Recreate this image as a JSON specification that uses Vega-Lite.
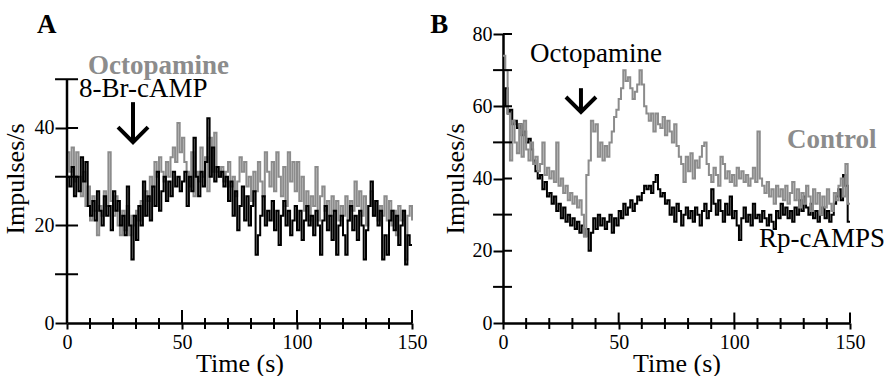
{
  "$schema": "https://vega.github.io/schema/vega-lite/v6.json",
  "padding": {"left": 2, "top": 10, "right": 0, "bottom": 0},
  "spacing": 3,
  "config": {
    "view": {"stroke": null},
    "font": "Liberation Serif",
    "text": {"font": "Liberation Serif"},
    "axis": {"labelFont": "Liberation Serif", "titleFont": "Liberation Serif", "labelFontSize": 20, "titleFontSize": 26, "titleFontWeight": "normal", "labelColor": "black", "titleColor": "black", "domainColor": "black", "tickColor": "black", "grid": false, "domainWidth": 2.5, "tickWidth": 2, "labelFlush": false}
  },
  "hconcat": [
    {
      "width": 345, "height": 289,
      "data": {"values": [
{"t":0,"camp":30,"octo":35},{"t":1,"camp":28,"octo":31},{"t":2,"camp":32,"octo":36},{"t":3,"camp":26,"octo":29},{"t":4,"camp":30,"octo":35},{"t":5,"camp":27,"octo":30},{"t":6,"camp":34,"octo":26},{"t":7,"camp":29,"octo":31},{"t":8,"camp":33,"octo":24},{"t":9,"camp":24,"octo":28},
{"t":10,"camp":22,"octo":21},{"t":11,"camp":25,"octo":26},{"t":12,"camp":21,"octo":23},{"t":13,"camp":27,"octo":18},{"t":14,"camp":23,"octo":24},{"t":15,"camp":20,"octo":22},{"t":16,"camp":26,"octo":27},{"t":17,"camp":22,"octo":24},{"t":18,"camp":24,"octo":35},{"t":19,"camp":19,"octo":25},
{"t":20,"camp":27,"octo":22},{"t":21,"camp":23,"octo":26},{"t":22,"camp":25,"octo":20},{"t":23,"camp":20,"octo":18},{"t":24,"camp":22,"octo":23},{"t":25,"camp":18,"octo":19},{"t":26,"camp":28,"octo":24},{"t":27,"camp":20,"octo":18},{"t":28,"camp":13,"octo":22},{"t":29,"camp":22,"octo":20},
{"t":30,"camp":17,"octo":23},{"t":31,"camp":24,"octo":21},{"t":32,"camp":20,"octo":25},{"t":33,"camp":29,"octo":22},{"t":34,"camp":22,"octo":27},{"t":35,"camp":26,"octo":25},{"t":36,"camp":21,"octo":30},{"t":37,"camp":28,"octo":28},{"t":38,"camp":24,"octo":33},{"t":39,"camp":31,"octo":30},
{"t":40,"camp":23,"octo":34},{"t":41,"camp":27,"octo":31},{"t":42,"camp":30,"octo":29},{"t":43,"camp":25,"octo":33},{"t":44,"camp":29,"octo":30},{"t":45,"camp":26,"octo":34},{"t":46,"camp":31,"octo":36},{"t":47,"camp":28,"octo":33},{"t":48,"camp":30,"octo":41},{"t":49,"camp":27,"octo":35},
{"t":50,"camp":29,"octo":38},{"t":51,"camp":31,"octo":33},{"t":52,"camp":24,"octo":31},{"t":53,"camp":30,"octo":28},{"t":54,"camp":27,"octo":35},{"t":55,"camp":38,"octo":26},{"t":56,"camp":30,"octo":31},{"t":57,"camp":26,"octo":29},{"t":58,"camp":31,"octo":36},{"t":59,"camp":28,"octo":30},
{"t":60,"camp":33,"octo":34},{"t":61,"camp":42,"octo":27},{"t":62,"camp":30,"octo":38},{"t":63,"camp":36,"octo":31},{"t":64,"camp":29,"octo":39},{"t":65,"camp":32,"octo":31},{"t":66,"camp":30,"octo":30},{"t":67,"camp":31,"octo":32},{"t":68,"camp":28,"octo":29},{"t":69,"camp":30,"octo":31},
{"t":70,"camp":25,"octo":33},{"t":71,"camp":29,"octo":28},{"t":72,"camp":22,"octo":30},{"t":73,"camp":27,"octo":26},{"t":74,"camp":19,"octo":29},{"t":75,"camp":24,"octo":34},{"t":76,"camp":28,"octo":31},{"t":77,"camp":21,"octo":33},{"t":78,"camp":26,"octo":28},{"t":79,"camp":20,"octo":30},
{"t":80,"camp":24,"octo":25},{"t":81,"camp":27,"octo":31},{"t":82,"camp":14,"octo":27},{"t":83,"camp":18,"octo":33},{"t":84,"camp":22,"octo":29},{"t":85,"camp":26,"octo":26},{"t":86,"camp":20,"octo":35},{"t":87,"camp":23,"octo":31},{"t":88,"camp":21,"octo":28},{"t":89,"camp":25,"octo":33},
{"t":90,"camp":19,"octo":27},{"t":91,"camp":23,"octo":35},{"t":92,"camp":16,"octo":30},{"t":93,"camp":22,"octo":26},{"t":94,"camp":25,"octo":32},{"t":95,"camp":20,"octo":24},{"t":96,"camp":23,"octo":35},{"t":97,"camp":18,"octo":29},{"t":98,"camp":21,"octo":33},{"t":99,"camp":24,"octo":27},
{"t":100,"camp":19,"octo":33},{"t":101,"camp":23,"octo":25},{"t":102,"camp":17,"octo":30},{"t":103,"camp":21,"octo":23},{"t":104,"camp":24,"octo":27},{"t":105,"camp":20,"octo":21},{"t":106,"camp":22,"octo":26},{"t":107,"camp":18,"octo":24},{"t":108,"camp":23,"octo":32},{"t":109,"camp":20,"octo":21},
{"t":110,"camp":14,"octo":26},{"t":111,"camp":21,"octo":28},{"t":112,"camp":24,"octo":23},{"t":113,"camp":19,"octo":25},{"t":114,"camp":22,"octo":22},{"t":115,"camp":17,"octo":26},{"t":116,"camp":23,"octo":23},{"t":117,"camp":14,"octo":25},{"t":118,"camp":20,"octo":21},{"t":119,"camp":22,"octo":24},
{"t":120,"camp":18,"octo":22},{"t":121,"camp":14,"octo":26},{"t":122,"camp":21,"octo":21},{"t":123,"camp":24,"octo":25},{"t":124,"camp":19,"octo":23},{"t":125,"camp":22,"octo":29},{"t":126,"camp":17,"octo":24},{"t":127,"camp":23,"octo":27},{"t":128,"camp":20,"octo":22},{"t":129,"camp":13,"octo":26},
{"t":130,"camp":19,"octo":20},{"t":131,"camp":24,"octo":24},{"t":132,"camp":29,"octo":27},{"t":133,"camp":22,"octo":22},{"t":134,"camp":25,"octo":25},{"t":135,"camp":20,"octo":21},{"t":136,"camp":23,"octo":24},{"t":137,"camp":13,"octo":22},{"t":138,"camp":18,"octo":26},{"t":139,"camp":14,"octo":21},
{"t":140,"camp":21,"octo":25},{"t":141,"camp":23,"octo":20},{"t":142,"camp":19,"octo":23},{"t":143,"camp":22,"octo":18},{"t":144,"camp":16,"octo":24},{"t":145,"camp":20,"octo":21},{"t":146,"camp":23,"octo":23},{"t":147,"camp":12,"octo":13},{"t":148,"camp":18,"octo":22},{"t":149,"camp":16,"octo":24},
{"t":150,"camp":16,"octo":21}
      ]},
      "layer": [
        {
          "mark": {"type": "line", "interpolate": "step-after", "color": "#8c8c8c", "strokeWidth": 2},
          "encoding": {
            "x": {"field": "t", "type": "quantitative", "scale": {"domain": [0, 150], "nice": false},
                  "axis": {"title": "Time (s)", "values": [0, 50, 100, 150], "tickSize": 6, "labelPadding": 3, "titlePadding": -2}},
            "y": {"field": "octo", "type": "quantitative", "scale": {"domain": [0, 59.28], "nice": false},
                  "axis": {"title": "Impulses/s", "values": [0, 20, 40], "tickSize": 12, "labelPadding": 1, "domain": false, "titlePadding": 6}}
          }
        },
        {
          "mark": {"type": "line", "interpolate": "step-after", "color": "black", "strokeWidth": 2},
          "encoding": {"x": {"field": "t", "type": "quantitative"}, "y": {"field": "camp", "type": "quantitative"}}
        },
        {
          "data": {"values": [{"tick": 0}]},
          "mark": {"type": "rule", "strokeWidth": 2.5, "color": "black"},
          "encoding": {"x": {"datum": 0}, "y": {"datum": 0}, "y2": {"datum": 50}}
        },
        {
          "data": {"values": [{"tick":20},{"tick":40}]},
          "mark": {"type": "rule", "strokeWidth": 2, "color": "black"},
          "encoding": {"x": {"datum": 0}, "x2": {"datum": 4.8}, "y": {"field": "tick", "type": "quantitative"}}
        },
        {
          "data": {"values": [{"tick":10},{"tick":30},{"tick":50}]},
          "mark": {"type": "rule", "strokeWidth": 2, "color": "black"},
          "encoding": {"x": {"datum": -5.2}, "x2": {"datum": 4.8}, "y": {"field": "tick", "type": "quantitative"}}
        },
        {
          "data": {"values": [{"tick":10},{"tick":20},{"tick":30},{"tick":40},{"tick":60},{"tick":70},{"tick":80},{"tick":90},{"tick":110},{"tick":120},{"tick":130},{"tick":140}]},
          "mark": {"type": "rule", "strokeWidth": 2, "color": "black"},
          "encoding": {"x": {"field": "tick", "type": "quantitative"}, "y": {"datum": -1.23}, "y2": {"datum": 1.03}}
        },
        {
          "data": {"values": [{"tick":50},{"tick":100},{"tick":150}]},
          "mark": {"type": "rule", "strokeWidth": 2, "color": "black"},
          "encoding": {"x": {"field": "tick", "type": "quantitative"}, "y": {"datum": 0}, "y2": {"datum": 2.67}}
        },
        {
          "data": {"values": [{"t": 28.7, "top": 45.3, "bottom": 37.6}]},
          "mark": {"type": "rule", "strokeWidth": 4, "color": "black"},
          "encoding": {"x": {"field": "t", "type": "quantitative"}, "y": {"field": "top", "type": "quantitative"}, "y2": {"field": "bottom"}}
        },
        {
          "data": {"values": [{"t": 28.7, "tip": 37.1}]},
          "mark": {"type": "point", "shape": "M-1,-1L0,0L1,-1", "size": 900, "filled": false, "stroke": "black", "strokeWidth": 4, "opacity": 1},
          "encoding": {"x": {"field": "t", "type": "quantitative"}, "y": {"field": "tip", "type": "quantitative"}}
        },
        {
          "data": {"values": [{"t": 9.1, "v": 51.1, "label": "Octopamine"}]},
          "mark": {"type": "text", "font": "Liberation Serif", "fontSize": 27, "fontWeight": "bold", "color": "#8c8c8c", "align": "left", "baseline": "alphabetic"},
          "encoding": {"x": {"field": "t", "type": "quantitative"}, "y": {"field": "v", "type": "quantitative"}, "text": {"field": "label"}}
        },
        {
          "data": {"values": [{"t": 5.2, "v": 46.3, "label": "8-Br-cAMP"}]},
          "mark": {"type": "text", "font": "Liberation Serif", "fontSize": 27, "color": "black", "align": "left", "baseline": "alphabetic"},
          "encoding": {"x": {"field": "t", "type": "quantitative"}, "y": {"field": "v", "type": "quantitative"}, "text": {"field": "label"}}
        },
        {
          "data": {"values": [{"t": -13, "v": 59.5, "label": "A"}]},
          "mark": {"type": "text", "font": "Liberation Serif", "fontSize": 27, "fontWeight": "bold", "color": "black", "align": "left", "baseline": "alphabetic"},
          "encoding": {"x": {"field": "t", "type": "quantitative"}, "y": {"field": "v", "type": "quantitative"}, "text": {"field": "label"}}
        }
      ]
    },
    {
      "width": 347, "height": 289,
      "data": {"values": [
{"t":0,"rp":60,"ctrl":74},{"t":1,"rp":65,"ctrl":70},{"t":2,"rp":58,"ctrl":58},{"t":3,"rp":59,"ctrl":45},{"t":4,"rp":55,"ctrl":56},{"t":5,"rp":56,"ctrl":50},{"t":6,"rp":54,"ctrl":47},{"t":7,"rp":55,"ctrl":55},{"t":8,"rp":52,"ctrl":46},{"t":9,"rp":53,"ctrl":56},
{"t":10,"rp":50,"ctrl":48},{"t":11,"rp":51,"ctrl":45},{"t":12,"rp":48,"ctrl":50},{"t":13,"rp":45,"ctrl":44},{"t":14,"rp":42,"ctrl":46},{"t":15,"rp":40,"ctrl":42},{"t":16,"rp":41,"ctrl":44},{"t":17,"rp":37,"ctrl":50},{"t":18,"rp":39,"ctrl":41},{"t":19,"rp":35,"ctrl":43},
{"t":20,"rp":36,"ctrl":40},{"t":21,"rp":33,"ctrl":42},{"t":22,"rp":35,"ctrl":39},{"t":23,"rp":31,"ctrl":50},{"t":24,"rp":33,"ctrl":38},{"t":25,"rp":29,"ctrl":40},{"t":26,"rp":32,"ctrl":36},{"t":27,"rp":28,"ctrl":38},{"t":28,"rp":30,"ctrl":34},{"t":29,"rp":27,"ctrl":36},
{"t":30,"rp":29,"ctrl":33},{"t":31,"rp":26,"ctrl":35},{"t":32,"rp":28,"ctrl":32},{"t":33,"rp":25,"ctrl":34},{"t":34,"rp":27,"ctrl":30},{"t":35,"rp":24,"ctrl":24},{"t":36,"rp":26,"ctrl":41},{"t":37,"rp":20,"ctrl":45},{"t":38,"rp":25,"ctrl":56},{"t":39,"rp":29,"ctrl":53},
{"t":40,"rp":26,"ctrl":55},{"t":41,"rp":30,"ctrl":46},{"t":42,"rp":27,"ctrl":50},{"t":43,"rp":29,"ctrl":45},{"t":44,"rp":26,"ctrl":49},{"t":45,"rp":28,"ctrl":46},{"t":46,"rp":30,"ctrl":50},{"t":47,"rp":25,"ctrl":53},{"t":48,"rp":29,"ctrl":57},{"t":49,"rp":27,"ctrl":59},
{"t":50,"rp":31,"ctrl":62},{"t":51,"rp":29,"ctrl":65},{"t":52,"rp":33,"ctrl":70},{"t":53,"rp":30,"ctrl":67},{"t":54,"rp":32,"ctrl":68},{"t":55,"rp":34,"ctrl":65},{"t":56,"rp":31,"ctrl":62},{"t":57,"rp":33,"ctrl":64},{"t":58,"rp":35,"ctrl":66},{"t":59,"rp":34,"ctrl":70},
{"t":60,"rp":36,"ctrl":66},{"t":61,"rp":38,"ctrl":60},{"t":62,"rp":37,"ctrl":58},{"t":63,"rp":38,"ctrl":56},{"t":64,"rp":36,"ctrl":58},{"t":65,"rp":39,"ctrl":53},{"t":66,"rp":41,"ctrl":58},{"t":67,"rp":37,"ctrl":55},{"t":68,"rp":35,"ctrl":54},{"t":69,"rp":36,"ctrl":57},
{"t":70,"rp":33,"ctrl":52},{"t":71,"rp":34,"ctrl":56},{"t":72,"rp":30,"ctrl":53},{"t":73,"rp":32,"ctrl":50},{"t":74,"rp":28,"ctrl":55},{"t":75,"rp":33,"ctrl":49},{"t":76,"rp":31,"ctrl":46},{"t":77,"rp":27,"ctrl":44},{"t":78,"rp":30,"ctrl":39},{"t":79,"rp":32,"ctrl":46},
{"t":80,"rp":29,"ctrl":42},{"t":81,"rp":31,"ctrl":47},{"t":82,"rp":28,"ctrl":40},{"t":83,"rp":32,"ctrl":45},{"t":84,"rp":30,"ctrl":43},{"t":85,"rp":27,"ctrl":46},{"t":86,"rp":31,"ctrl":49},{"t":87,"rp":33,"ctrl":50},{"t":88,"rp":29,"ctrl":44},{"t":89,"rp":31,"ctrl":41},
{"t":90,"rp":37,"ctrl":39},{"t":91,"rp":33,"ctrl":43},{"t":92,"rp":30,"ctrl":41},{"t":93,"rp":34,"ctrl":38},{"t":94,"rp":31,"ctrl":46},{"t":95,"rp":28,"ctrl":44},{"t":96,"rp":33,"ctrl":40},{"t":97,"rp":30,"ctrl":42},{"t":98,"rp":35,"ctrl":39},{"t":99,"rp":29,"ctrl":41},
{"t":100,"rp":31,"ctrl":38},{"t":101,"rp":27,"ctrl":43},{"t":102,"rp":23,"ctrl":40},{"t":103,"rp":29,"ctrl":42},{"t":104,"rp":32,"ctrl":39},{"t":105,"rp":28,"ctrl":41},{"t":106,"rp":30,"ctrl":38},{"t":107,"rp":27,"ctrl":40},{"t":108,"rp":33,"ctrl":43},{"t":109,"rp":29,"ctrl":39},
{"t":110,"rp":30,"ctrl":53},{"t":111,"rp":28,"ctrl":40},{"t":112,"rp":31,"ctrl":38},{"t":113,"rp":29,"ctrl":36},{"t":114,"rp":27,"ctrl":39},{"t":115,"rp":30,"ctrl":35},{"t":116,"rp":28,"ctrl":37},{"t":117,"rp":26,"ctrl":33},{"t":118,"rp":31,"ctrl":38},{"t":119,"rp":29,"ctrl":35},
{"t":120,"rp":33,"ctrl":37},{"t":121,"rp":30,"ctrl":34},{"t":122,"rp":32,"ctrl":38},{"t":123,"rp":29,"ctrl":33},{"t":124,"rp":31,"ctrl":36},{"t":125,"rp":28,"ctrl":39},{"t":126,"rp":32,"ctrl":34},{"t":127,"rp":30,"ctrl":37},{"t":128,"rp":34,"ctrl":32},{"t":129,"rp":31,"ctrl":36},
{"t":130,"rp":35,"ctrl":33},{"t":131,"rp":32,"ctrl":38},{"t":132,"rp":30,"ctrl":35},{"t":133,"rp":33,"ctrl":31},{"t":134,"rp":29,"ctrl":37},{"t":135,"rp":31,"ctrl":33},{"t":136,"rp":28,"ctrl":36},{"t":137,"rp":30,"ctrl":30},{"t":138,"rp":32,"ctrl":35},{"t":139,"rp":29,"ctrl":32},
{"t":140,"rp":31,"ctrl":37},{"t":141,"rp":28,"ctrl":33},{"t":142,"rp":30,"ctrl":31},{"t":143,"rp":33,"ctrl":36},{"t":144,"rp":35,"ctrl":34},{"t":145,"rp":37,"ctrl":38},{"t":146,"rp":34,"ctrl":40},{"t":147,"rp":41,"ctrl":35},{"t":148,"rp":38,"ctrl":44},{"t":149,"rp":28,"ctrl":33},
{"t":150,"rp":28,"ctrl":33}
      ]},
      "layer": [
        {
          "mark": {"type": "line", "interpolate": "step-after", "color": "black", "strokeWidth": 2},
          "encoding": {
            "x": {"field": "t", "type": "quantitative", "scale": {"domain": [0, 150], "nice": false},
                  "axis": {"title": "Time (s)", "values": [0, 50, 100, 150], "tickSize": 6, "labelPadding": 3, "titlePadding": -2}},
            "y": {"field": "rp", "type": "quantitative", "scale": {"domain": [0, 80], "nice": false},
                  "axis": {"title": "Impulses/s", "values": [0, 20, 40, 60, 80], "tickSize": 10, "labelPadding": 1, "domain": true, "titlePadding": 4}}
          }
        },
        {
          "mark": {"type": "line", "interpolate": "step-after", "color": "#8c8c8c", "strokeWidth": 2},
          "encoding": {"x": {"field": "t", "type": "quantitative"}, "y": {"field": "ctrl", "type": "quantitative"}}
        },
        {
          "data": {"values": [{"tick":20},{"tick":40},{"tick":60},{"tick":80}]},
          "mark": {"type": "rule", "strokeWidth": 2, "color": "black"},
          "encoding": {"x": {"datum": 0}, "x2": {"datum": 3.9}, "y": {"field": "tick", "type": "quantitative"}}
        },
        {
          "data": {"values": [{"tick":10},{"tick":30},{"tick":50},{"tick":70}]},
          "mark": {"type": "rule", "strokeWidth": 2, "color": "black"},
          "encoding": {"x": {"datum": -4.3}, "x2": {"datum": 3.9}, "y": {"field": "tick", "type": "quantitative"}}
        },
        {
          "data": {"values": [{"tick":10},{"tick":20},{"tick":30},{"tick":40},{"tick":60},{"tick":70},{"tick":80},{"tick":90},{"tick":110},{"tick":120},{"tick":130},{"tick":140}]},
          "mark": {"type": "rule", "strokeWidth": 2, "color": "black"},
          "encoding": {"x": {"field": "tick", "type": "quantitative"}, "y": {"datum": -1.66}, "y2": {"datum": 1.38}}
        },
        {
          "data": {"values": [{"tick":50},{"tick":100},{"tick":150}]},
          "mark": {"type": "rule", "strokeWidth": 2, "color": "black"},
          "encoding": {"x": {"field": "tick", "type": "quantitative"}, "y": {"datum": 0}, "y2": {"datum": 2.9}}
        },
        {
          "data": {"values": [{"t": 33.7, "top": 65, "bottom": 59}]},
          "mark": {"type": "rule", "strokeWidth": 4, "color": "black"},
          "encoding": {"x": {"field": "t", "type": "quantitative"}, "y": {"field": "top", "type": "quantitative"}, "y2": {"field": "bottom"}}
        },
        {
          "data": {"values": [{"t": 33.7, "tip": 58.4}]},
          "mark": {"type": "point", "shape": "M-1,-1L0,0L1,-1", "size": 900, "filled": false, "stroke": "black", "strokeWidth": 4, "opacity": 1},
          "encoding": {"x": {"field": "t", "type": "quantitative"}, "y": {"field": "tip", "type": "quantitative"}}
        },
        {
          "data": {"values": [{"t": 11.7, "v": 72.3, "label": "Octopamine"}, {"t": 110.7, "v": 21, "label": "Rp-cAMPS"}]},
          "mark": {"type": "text", "font": "Liberation Serif", "fontSize": 27, "color": "black", "align": "left", "baseline": "alphabetic"},
          "encoding": {"x": {"field": "t", "type": "quantitative"}, "y": {"field": "v", "type": "quantitative"}, "text": {"field": "label"}}
        },
        {
          "data": {"values": [{"t": 122.8, "v": 48.4, "label": "Control"}]},
          "mark": {"type": "text", "font": "Liberation Serif", "fontSize": 27, "fontWeight": "bold", "color": "#8c8c8c", "align": "left", "baseline": "alphabetic"},
          "encoding": {"x": {"field": "t", "type": "quantitative"}, "y": {"field": "v", "type": "quantitative"}, "text": {"field": "label"}}
        },
        {
          "data": {"values": [{"t": -31.5, "v": 80.3, "label": "B"}]},
          "mark": {"type": "text", "font": "Liberation Serif", "fontSize": 27, "fontWeight": "bold", "color": "black", "align": "left", "baseline": "alphabetic"},
          "encoding": {"x": {"field": "t", "type": "quantitative"}, "y": {"field": "v", "type": "quantitative"}, "text": {"field": "label"}}
        }
      ]
    }
  ]
}
